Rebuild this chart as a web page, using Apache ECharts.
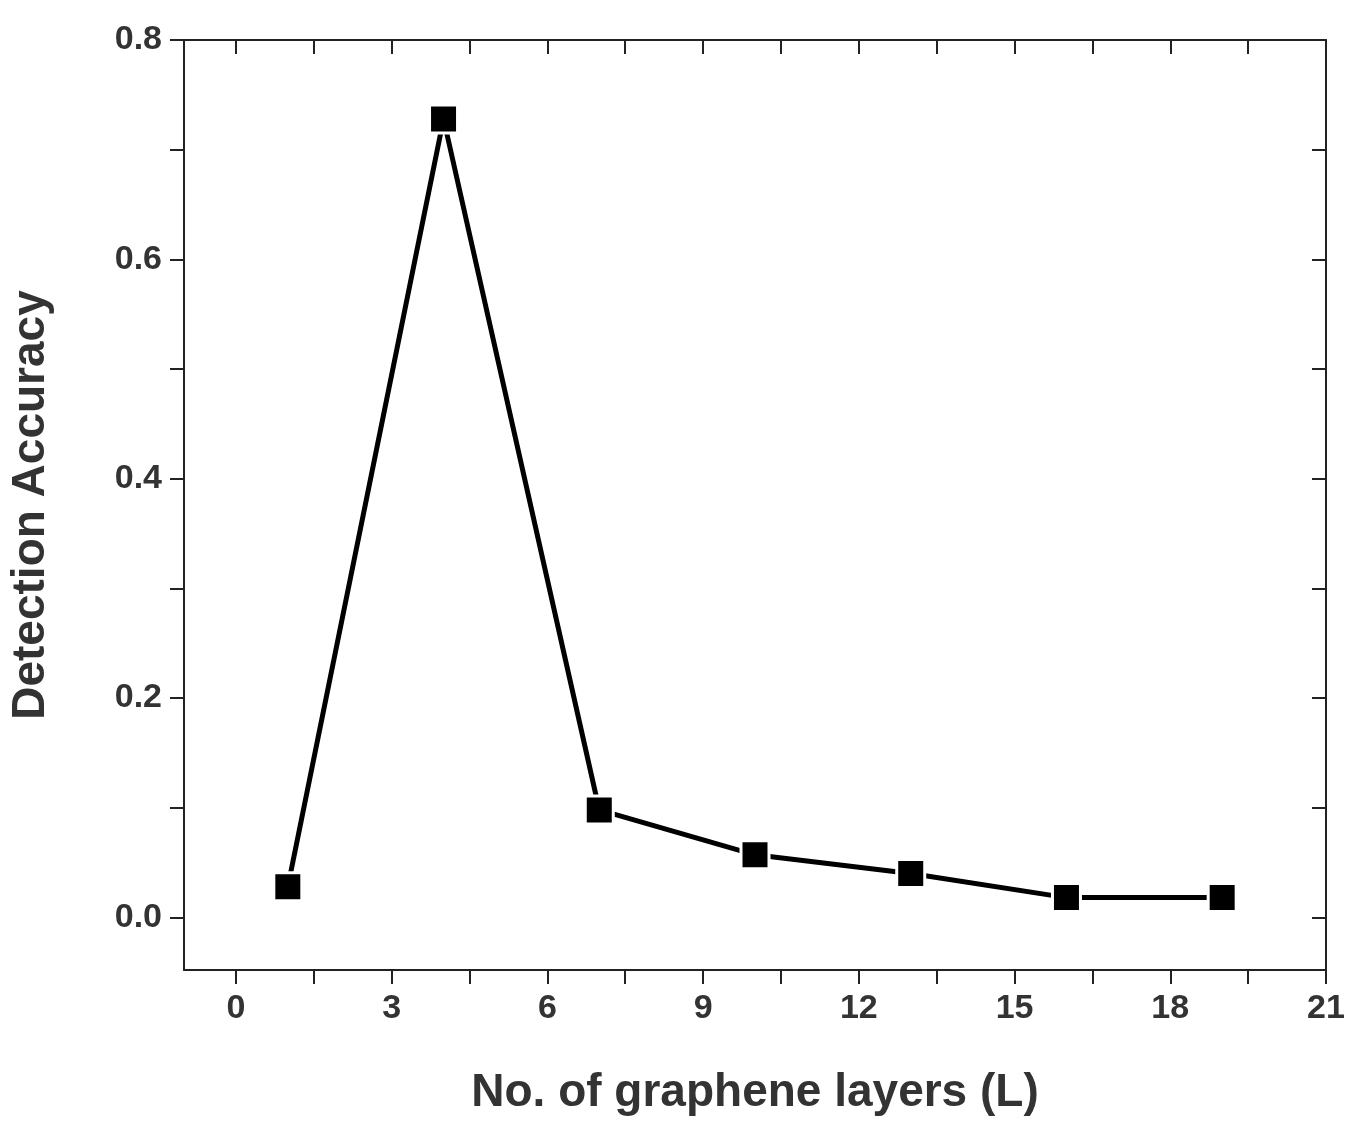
<!DOCTYPE html>
<html><head><meta charset="utf-8">
<script src="https://cdn.jsdelivr.net/npm/echarts@6/dist/echarts.min.js"></script>
<style>html,body{margin:0;background:#fff}#c{width:1358px;height:1148px}</style>
</head><body><div id="c"></div>
<script>
const layers = [1, 4, 7, 10, 13, 16, 19];
const accuracy = [0.028, 0.728, 0.098, 0.057, 0.040, 0.018, 0.018];
const xLabels = [0, 3, 6, 9, 12, 15, 18, 21];
const xTicks = [-1.5,0,1.5,3,4.5,6,7.5,9,10.5,12,13.5,15,16.5,18,19.5,21];
const yLabels = [0, 0.2, 0.4, 0.6, 0.8];
const yTicks = [0,0.1,0.2,0.3,0.4,0.5,0.6,0.7,0.8];
const F = 'Liberation Sans, Arial, sans-serif';
const chart = echarts.init(document.getElementById('c'));
const axLine = {show:true, onZero:false, lineStyle:{color:'#222', width:2}};
chart.setOption({
  animation:false,
  grid:{left:180,right:32,top:40,bottom:178},
  xAxis:[{type:'value',min:-1,max:21,position:'bottom',
    name:'No. of graphene layers (L)',nameLocation:'middle',nameGap:100,
    nameTextStyle:{fontFamily:F,fontWeight:'bold',fontSize:46,color:'#333'},
    axisLine:axLine,splitLine:{show:false},
    axisTick:{show:true,inside:false,length:14,lineStyle:{color:'#222',width:2},customValues:xTicks},
    axisLabel:{customValues:xLabels,fontFamily:F,fontWeight:'bold',fontSize:34,color:'#333',margin:22}},
    {type:'value',min:-1,max:21,position:'top',axisLine:axLine,splitLine:{show:false},
    axisTick:{show:true,inside:true,length:14,lineStyle:{color:'#222',width:2},customValues:xTicks},
    axisLabel:{show:false}}],
  yAxis:[{type:'value',min:-0.048,max:0.8,position:'left',
    name:'Detection Accuracy',nameLocation:'middle',nameGap:130,
    nameTextStyle:{fontFamily:F,fontWeight:'bold',fontSize:46,color:'#333'},
    axisLine:axLine,splitLine:{show:false},
    axisTick:{show:true,inside:false,length:14,lineStyle:{color:'#222',width:2},customValues:yTicks},
    axisLabel:{customValues:yLabels,formatter:v=>v.toFixed(1),fontFamily:F,fontWeight:'bold',fontSize:34,color:'#333',margin:22}},
    {type:'value',min:-0.048,max:0.8,position:'right',axisLine:axLine,splitLine:{show:false},
    axisTick:{show:true,inside:true,length:14,lineStyle:{color:'#222',width:2},customValues:yTicks},
    axisLabel:{show:false}}],
  series:[{type:'line',data:layers.map((x,i)=>[x,accuracy[i]]),
    symbol:'rect',symbolSize:28,showAllSymbol:true,
    lineStyle:{color:'#000',width:5},
    itemStyle:{color:'#000',borderColor:'#fff',borderWidth:3}}]
});
</script></body></html>
